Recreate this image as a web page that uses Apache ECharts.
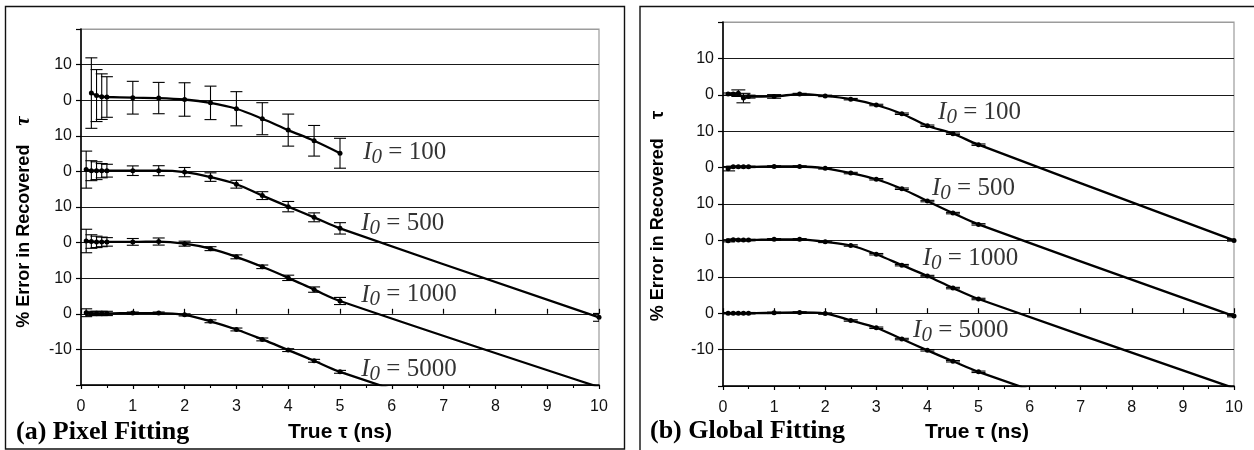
<!DOCTYPE html>
<html>
<head>
<meta charset="utf-8">
<script src="https://cdn.jsdelivr.net/npm/echarts@6/dist/echarts.min.js"></script>
<style>
  html, body { margin: 0; padding: 0; background: #fff; }
  #chart { width: 1254px; height: 450px; }
</style>
</head>
<body>
<div id="chart"></div>
<script>
// True lifetimes (ns) at which the recovered lifetime was evaluated
const tau = [0.1, 0.2, 0.3, 0.4, 0.5, 1, 1.5, 2, 2.5, 3, 3.5, 4, 4.5, 5, 10];
const intensities = [100, 500, 1000, 5000];
// Each intensity curve is shifted up so the four stacks share one axis
const stackOffsets = [60, 40, 20, 0];

const yTickValues = [-20, -10, 0, 10, 20, 30, 40, 50, 60, 70, 80];
const yTickText   = ['', '-10', '0', '10', '0', '10', '0', '10', '0', '10', ''];

// (a) Pixel fitting: % error in recovered tau and its spread
const pixel100      = [null, 2.0, 1.3, 1.0, 0.9, 0.7, 0.6, 0.2, -0.75, -2.4, -5.2, -8.4, -11.4, -14.9, null];
const pixel100Err   = [null, 9.9, 7.3, 6.4, 5.7, 4.6, 4.4, 4.7, 4.7, 4.8, 4.5, 4.5, 4.3, 4.2, null];
const pixel500      = [0.5, 0.2, 0.2, 0.2, 0.2, 0.2, 0.2, -0.2, -1.6, -3.6, -6.8, -9.9, -12.9, -16.0, -41.0];
const pixel500Err   = [5.2, 2.8, 2.5, 2.0, 1.8, 1.35, 1.4, 1.3, 1.2, 1.1, 1.1, 1.45, 1.25, 1.6, 1.1];
const pixel1000     = [0.45, 0.3, 0.2, 0.2, 0.2, 0.2, 0.3, -0.3, -1.7, -4.0, -6.8, -9.9, -13.2, -16.4, -40.6];
const pixel1000Err  = [3.3, 1.9, 1.6, 1.35, 1.2, 0.95, 1.0, 0.7, 0.55, 0.55, 0.5, 0.75, 0.75, 1.0, 0.8];
const pixel5000     = [0.3, 0.1, 0.1, 0.1, 0.1, 0.2, 0.2, -0.3, -2.1, -4.4, -7.2, -10.2, -13.2, -16.3, -40.5];
const pixel5000Err  = [1.1, 0.6, 0.6, 0.6, 0.6, 0.3, 0.3, 0.3, 0.4, 0.4, 0.4, 0.4, 0.4, 0.4, 0.4];

// (b) Global fitting
const global100     = [0.2, 0.2, 0.45, -0.9, -0.5, -0.45, 0.2, -0.3, -1.2, -2.8, -5.2, -8.5, -10.7, -13.7, -40.0];
const global100Err  = [0.3, 0.3, 0.9, 1.3, 0.4, 0.5, 0.2, 0.2, 0.2, 0.2, 0.2, 0.2, 0.2, 0.2, 0.2];
const global500     = [-0.3, 0.2, 0.2, 0.2, 0.2, 0.3, 0.3, -0.2, -1.5, -3.2, -5.8, -9.2, -12.5, -15.6, -40.8];
const global500Err  = [0.6, 0.2, 0.2, 0.2, 0.2, 0.2, 0.2, 0.2, 0.2, 0.2, 0.2, 0.2, 0.2, 0.2, 0.2];
const global1000    = [-0.1, 0.2, 0.1, 0.1, 0.1, 0.3, 0.3, -0.4, -1.4, -3.8, -6.8, -9.8, -13.1, -16.1, -40.6];
const global1000Err = [0.3, 0.2, 0.2, 0.2, 0.2, 0.2, 0.2, 0.2, 0.2, 0.2, 0.2, 0.2, 0.2, 0.2, 0.2];
const global5000    = [0.0, 0.0, 0.0, 0.0, 0.0, 0.1, 0.2, -0.1, -2.0, -4.0, -7.1, -10.2, -13.2, -16.1, -40.6];
const global5000Err = [0.2, 0.2, 0.2, 0.2, 0.2, 0.2, 0.2, 0.2, 0.2, 0.2, 0.2, 0.2, 0.2, 0.2, 0.2];

const SANS = '"Liberation Sans", Arial, sans-serif';
const SERIF = '"Liberation Serif", "Times New Roman", serif';
const INK = '#000';

const panels = [
  {
    values: [pixel100, pixel500, pixel1000, pixel5000],
    errors: [pixel100Err, pixel500Err, pixel1000Err, pixel5000Err],
    grid: { left: 81, top: 29, right: 655, bottom: 65 },
    capHalf: 6,
    // text anchors for the intensity captions, in axis units
    captionAt: [[5.44, 45.2], [5.40, 25.5], [5.40, 5.3], [5.40, -15.6]]
  },
  {
    values: [global100, global500, global1000, global5000],
    errors: [global100Err, global500Err, global1000Err, global5000Err],
    grid: { left: 723, top: 22, right: 20, bottom: 64 },
    capHalf: 7,
    captionAt: [[4.20, 55.1], [4.08, 34.3], [3.90, 15.1], [3.71, -4.7]]
  }
];

const Y_MIN = yTickValues[0];
const Y_MAX = yTickValues[yTickValues.length - 1];

function errorBarRenderer(capHalf) {
  return function (params, api) {
    const x = api.value(0);
    const lo = api.coord([x, api.value(1)]);
    const hi = api.coord([x, api.value(2)]);
    const style = { stroke: INK, lineWidth: 1.1 };
    return {
      type: 'group',
      children: [
        { type: 'line', shape: { x1: lo[0], y1: lo[1], x2: hi[0], y2: hi[1] }, style },
        { type: 'line', shape: { x1: lo[0] - capHalf, y1: lo[1], x2: lo[0] + capHalf, y2: lo[1] }, style },
        { type: 'line', shape: { x1: hi[0] - capHalf, y1: hi[1], x2: hi[0] + capHalf, y2: hi[1] }, style }
      ]
    };
  };
}

const grids = [], xAxes = [], yAxes = [], series = [];

panels.forEach(function (panel, p) {
  grids.push(Object.assign({ show: true, borderColor: '#9c9c9c', borderWidth: 1.2, backgroundColor: 'transparent' }, panel.grid));

  // main x axis: labels, outward ticks and half-unit minor ticks
  xAxes.push({
    type: 'value', gridIndex: p, min: 0, max: 10, interval: 1,
    axisLine: { show: true, onZero: false, lineStyle: { color: INK, width: 1.6 } },
    axisTick: { show: true, inside: false, length: 4, lineStyle: { color: INK, width: 1.2 } },
    minorTick: { show: true, splitNumber: 2, length: 3, lineStyle: { color: INK, width: 1.1 } },
    axisLabel: { margin: 14, color: '#111', fontFamily: SANS, fontSize: 16 },
    splitLine: { show: false }
  });
  // second axis on the same scale so the major ticks cross the axis line
  xAxes.push({
    type: 'value', gridIndex: p, min: 0, max: 10, interval: 1, position: 'bottom',
    axisLine: { show: false },
    axisTick: { show: true, inside: true, length: 5, lineStyle: { color: INK, width: 1.2 } },
    axisLabel: { show: false },
    splitLine: { show: false }
  });

  const splitColors = yTickValues.map(function (v) { return v === Y_MAX ? '#9c9c9c' : '#1a1a1a'; });
  yAxes.push({
    type: 'value', gridIndex: p, min: Y_MIN, max: Y_MAX, interval: 10,
    axisLine: { show: true, onZero: false, lineStyle: { color: INK, width: 1.6 } },
    axisTick: { show: true, inside: false, length: 5, lineStyle: { color: INK, width: 1.2 } },
    axisLabel: {
      margin: 9, color: '#111', fontFamily: SANS, fontSize: 16,
      formatter: function (v) {
        const i = yTickValues.indexOf(v);
        return i < 0 ? '' : yTickText[i];
      }
    },
    splitLine: { show: true, lineStyle: { color: splitColors, width: 1 } }
  });

  const xIdx = p * 2;
  panel.values.forEach(function (vals, k) {
    const off = stackOffsets[k];
    const errs = panel.errors[k];
    const lineData = tau.map(function (t, i) {
      return vals[i] == null ? [t, null] : [t, vals[i] + off];
    });
    const barData = [];
    tau.forEach(function (t, i) {
      if (vals[i] == null || errs[i] == null) return;
      const c = vals[i] + off;
      if (c < Y_MIN || c > Y_MAX) return;
      barData.push([t, c - errs[i], c + errs[i]]);
    });

    series.push({
      type: 'custom', name: 'err' + p + '_' + intensities[k],
      xAxisIndex: xIdx, yAxisIndex: p,
      renderItem: errorBarRenderer(panel.capHalf),
      encode: { x: 0, y: [1, 2] },
      clip: true, silent: true, z: 3,
      data: barData
    });
    series.push({
      type: 'line', name: 'I0=' + intensities[k] + (p ? ' global' : ' pixel'),
      xAxisIndex: xIdx, yAxisIndex: p,
      data: lineData,
      smooth: 0.35,
      connectNulls: false,
      clip: true,
      symbol: 'circle', symbolSize: 5,
      itemStyle: { color: INK },
      lineStyle: { color: INK, width: 2.3 },
      silent: true, z: 4
    });
  });

  // intensity captions, anchored in axis units
  series.push({
    type: 'scatter', name: 'captions' + p,
    xAxisIndex: xIdx, yAxisIndex: p,
    symbolSize: 1, itemStyle: { color: 'rgba(0,0,0,0)' },
    silent: true, z: 5,
    data: panel.captionAt.map(function (pt, k) { return { value: pt, intensity: intensities[k] }; }),
    label: {
      show: true, position: 'right', distance: 0,
      formatter: function (d) { return '{i|I}{s|0}{n| = ' + d.data.intensity + '}'; },
      rich: {
        i: { fontFamily: SERIF, fontStyle: 'italic', fontSize: 25, lineHeight: 25, verticalAlign: 'bottom', color: INK },
        s: { fontFamily: SERIF, fontStyle: 'italic', fontSize: 21, height: 15, lineHeight: 15, verticalAlign: 'bottom', color: INK },
        n: { fontFamily: SERIF, fontSize: 25, lineHeight: 25, verticalAlign: 'bottom', color: INK }
      }
    }
  });
});

function axisTitle(x, y, tauStyle) {
  return {
    type: 'text', x: x, y: y, rotation: Math.PI / 2, z: 10,
    style: {
      text: '{a|% Error in Recovered }{t|τ}',
      align: 'center', verticalAlign: 'middle',
      rich: {
        a: { fontFamily: SANS, fontWeight: 'bold', fontSize: 18, fill: INK },
        t: tauStyle
      }
    }
  };
}

const graphic = [
  // panel frames
  { type: 'rect', shape: { x: 5.5, y: 6.5, width: 619, height: 442.5 }, style: { fill: 'none', stroke: '#111', lineWidth: 1.4 }, z: 0 },
  { type: 'rect', shape: { x: 640, y: 6.5, width: 700, height: 500 }, style: { fill: 'none', stroke: '#111', lineWidth: 1.4 }, z: 0 },
  axisTitle(24, 222, { fontFamily: SERIF, fontStyle: 'italic', fontWeight: 'bold', fontSize: 21, padding: [0, 0, 0, 14], fill: INK }),
  axisTitle(658, 216, { fontFamily: SANS, fontWeight: 'bold', fontSize: 19, padding: [0, 0, 0, 14], fill: INK }),
  { type: 'text', x: 288, y: 432, z: 10, style: { text: 'True τ (ns)', fontFamily: SANS, fontWeight: 'bold', fontSize: 21, fill: INK, align: 'left', verticalAlign: 'middle' } },
  { type: 'text', x: 925, y: 432, z: 10, style: { text: 'True τ (ns)', fontFamily: SANS, fontWeight: 'bold', fontSize: 21, fill: INK, align: 'left', verticalAlign: 'middle' } },
  { type: 'text', x: 16, y: 432, z: 10, style: { text: '(a) Pixel Fitting', fontFamily: SERIF, fontWeight: 'bold', fontSize: 26, fill: INK, align: 'left', verticalAlign: 'middle' } },
  { type: 'text', x: 650, y: 431, z: 10, style: { text: '(b) Global Fitting', fontFamily: SERIF, fontWeight: 'bold', fontSize: 26, fill: INK, align: 'left', verticalAlign: 'middle' } }
];

const chart = echarts.init(document.getElementById('chart'), null, { renderer: 'canvas' });
chart.setOption({
  backgroundColor: '#fff',
  animation: false,
  grid: grids,
  xAxis: xAxes,
  yAxis: yAxes,
  series: series,
  graphic: graphic
});
</script>
</body>
</html>
